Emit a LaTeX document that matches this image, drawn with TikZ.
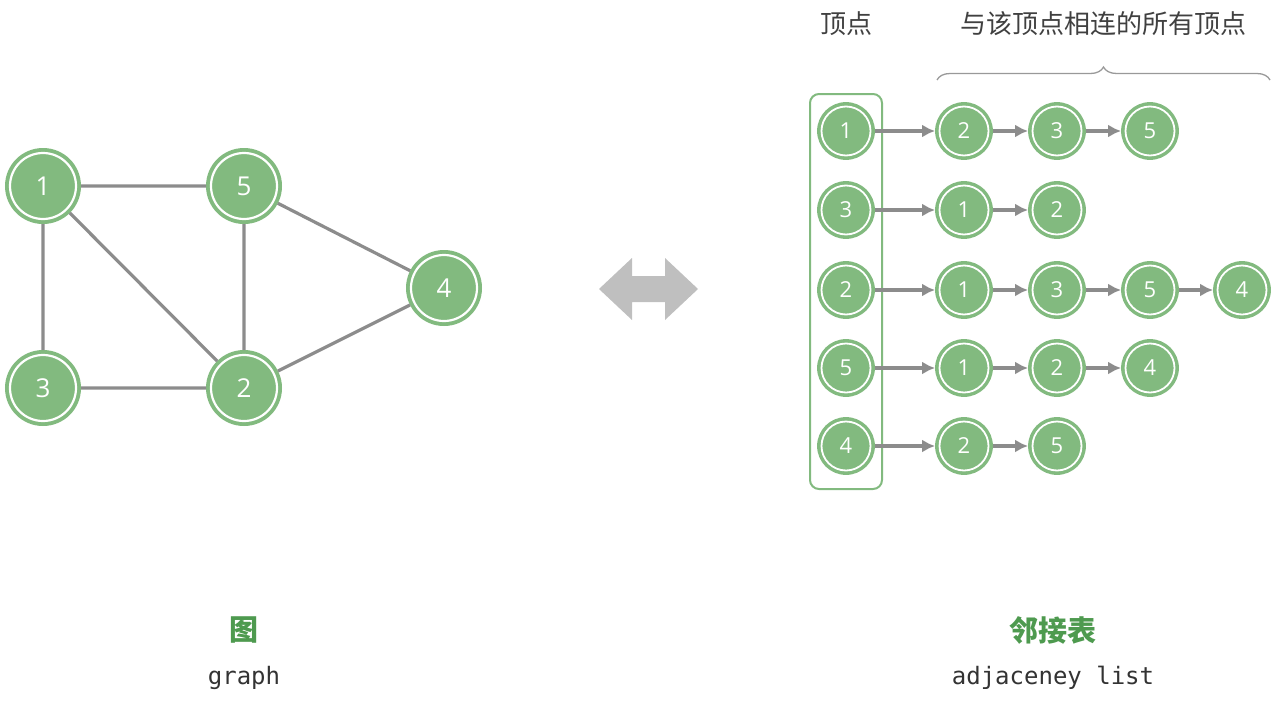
\documentclass[tikz,border=0pt]{standalone}
\usepackage{fontspec}
\setmainfont{Open Sans}
\setmonofont{DejaVu Sans Mono}
\newfontfamily\cjk{Noto Sans CJK SC}
\usetikzlibrary{decorations.pathreplacing,arrows.meta}
\definecolor{gr}{HTML}{82BA7F}
\definecolor{dgr}{HTML}{4E9A4F}
\definecolor{ln}{HTML}{8C8C8C}
\begin{document}
\begin{tikzpicture}[x=1pt,y=-1pt,
 big/.style={circle,fill=gr,draw=gr,line width=2pt,minimum size=74pt,inner sep=0pt,text=white,font=\fontsize{26}{26}\selectfont,
   path picture={\draw[white,line width=2.2pt] (path picture bounding box.center) circle (33pt);}},
 sm/.style={circle,fill=gr,draw=gr,line width=1.8pt,minimum size=56pt,inner sep=0pt,text=white,font=\fontsize{22}{22}\selectfont,
   path picture={\draw[white,line width=1.8pt] (path picture bounding box.center) circle (24.5pt);}},
 ed/.style={ln,line width=3.2pt},
 ar/.style={ln,line width=3.2pt,-{Latex[length=13pt,width=13pt]}},
 lab/.style={font=\cjk\fontsize{26}{26}\selectfont,text=black!75}]
\useasboundingbox (0,0) rectangle (1285,704);
% graph
\node[big] (g1) at (43,186) {1};
\node[big] (g5) at (244,186) {5};
\node[big] (g4) at (444,288) {4};
\node[big] (g3) at (43,388) {3};
\node[big] (g2) at (244,388) {2};
\draw[ed] (g1)--(g5) (g1)--(g3) (g1)--(g2) (g5)--(g2) (g5)--(g4) (g3)--(g2) (g2)--(g4);
% double arrow
\fill[black!25] (599,289)--(632,258)--(632,276)--(665,276)--(665,258)--(698,289)--(665,320)--(665,302)--(632,302)--(632,320)--cycle;
% list
\node[draw=gr,line width=2pt,rounded corners=9pt,minimum width=72pt,minimum height=395pt] (box) at (846,291.5) {};
\node[sm] (a0) at (846,131) {1}; \node[sm] (a1) at (964,131) {2}; \node[sm] (a2) at (1057,131) {3}; \node[sm] (a3) at (1150,131) {5};
\node[sm] (b0) at (846,210) {3}; \node[sm] (b1) at (964,210) {1}; \node[sm] (b2) at (1057,210) {2};
\node[sm] (c0) at (846,290) {2}; \node[sm] (c1) at (964,290) {1}; \node[sm] (c2) at (1057,290) {3}; \node[sm] (c3) at (1150,290) {5}; \node[sm] (c4) at (1242,290) {4};
\node[sm] (d0) at (846,368) {5}; \node[sm] (d1) at (964,368) {1}; \node[sm] (d2) at (1057,368) {2}; \node[sm] (d3) at (1150,368) {4};
\node[sm] (e0) at (846,446) {4}; \node[sm] (e1) at (964,446) {2}; \node[sm] (e2) at (1057,446) {5};
\draw[ar] (a0)--(a1); \draw[ar] (a1)--(a2); \draw[ar] (a2)--(a3);
\draw[ar] (b0)--(b1); \draw[ar] (b1)--(b2);
\draw[ar] (c0)--(c1); \draw[ar] (c1)--(c2); \draw[ar] (c2)--(c3); \draw[ar] (c3)--(c4);
\draw[ar] (d0)--(d1); \draw[ar] (d1)--(d2); \draw[ar] (d2)--(d3);
\draw[ar] (e0)--(e1); \draw[ar] (e1)--(e2);
% labels
\node[lab] (t1) at (846,24) {顶点};
\node[lab] (t2) at (1103,24) {与该顶点相连的所有顶点};
\coordinate (bl) at (937,80); \coordinate (br) at (1270,80);
\draw[black!40,line width=1.3pt,decorate,decoration={brace,amplitude=13pt}] (bl)--(br);
\node[font=\cjk\bfseries\fontsize{29}{29}\selectfont,text=dgr] (c1t) at (244,630) {图};
\node[font=\ttfamily\fontsize{24}{24}\selectfont,text=black!80] (c1e) at (244,678) {graph};
\node[font=\cjk\bfseries\fontsize{29}{29}\selectfont,text=dgr] (c2t) at (1053,630) {邻接表};
\node[font=\ttfamily\fontsize{24}{24}\selectfont,text=black!80] (c2e) at (1053,678) {adjaceney list};
\end{tikzpicture}
\end{document}
